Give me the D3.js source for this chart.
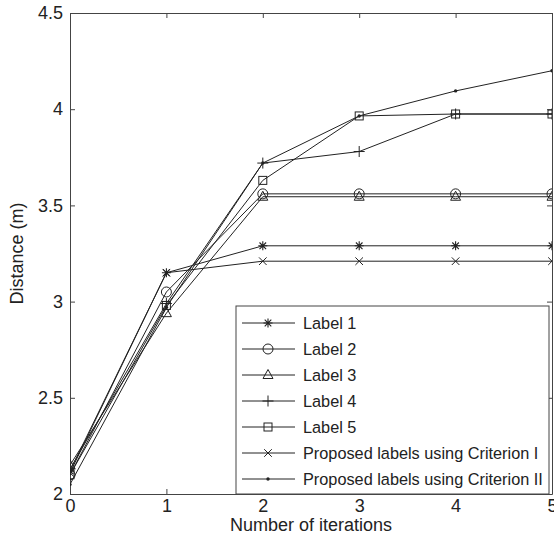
<!DOCTYPE html>
<html>
<head>
<meta charset="utf-8">
<script src="https://cdn.jsdelivr.net/npm/d3@7"></script>
<style>
  body { margin: 0; background: #fff; }
  text { font-family: "Liberation Sans", Arial, sans-serif; fill: #222; }
</style>
</head>
<body>
<div class="svg-div"></div>
<script>
// values
const iterations = [0, 1, 2, 3, 4, 5];
const label1 = [2.12, 3.15, 3.29, 3.29, 3.29, 3.29];
const label2 = [2.10, 3.05, 3.56, 3.56, 3.56, 3.56];
const label3 = [2.15, 2.94, 3.545, 3.545, 3.545, 3.545];
const label4 = [2.13, 2.99, 3.72, 3.78, 3.975, 3.975];
const label5 = [2.10, 2.98, 3.63, 3.965, 3.975, 3.975];
const criterion1 = [2.11, 3.15, 3.21, 3.21, 3.21, 3.21];
const criterion2 = [2.05, 2.97, 3.72, 3.965, 4.095, 4.2];

const seriesNames = ["Label 1", "Label 2", "Label 3", "Label 4", "Label 5",
  "Proposed labels using Criterion I", "Proposed labels using Criterion II"];
const seriesMarkers = ["asterisk", "circle", "triangle", "plus", "square", "cross", "dot"];
const xTicks = [0, 1, 2, 3, 4, 5];
const yTicks = [2, 2.5, 3, 3.5, 4, 4.5];

const allSeries = [label1, label2, label3, label4, label5, criterion1, criterion2];

const svgWidth = 554, svgHeight = 542;
const margin = {top: 13, right: 2, bottom: 48, left: 70};
let width = svgWidth - margin.left - margin.right;
let height = svgHeight - margin.top - margin.bottom;

let svg = d3.select(".svg-div").append("svg")
  .attr("width", svgWidth)
  .attr("height", svgHeight);

let x = d3.scaleLinear().domain([0, 5]).range([0, width]);
let y = d3.scaleLinear().domain([2, 4.5]).range([height, 0]);

let g = svg.append("g")
  .attr("transform", "translate(" + margin.left + "," + margin.top + ")");

// marker drawing
function drawMarker(sel, type) {
  const lineCol = "#222";
  if (type === "asterisk") {
    sel.append("path").attr("d", "M-4.5,0H4.5M0,-4.5V4.5M-3.3,-3.3L3.3,3.3M-3.3,3.3L3.3,-3.3")
      .attr("stroke", lineCol).attr("stroke-width", 1.1).attr("fill", "none");
  } else if (type === "circle") {
    sel.append("circle").attr("r", 5).attr("fill", "none").attr("stroke", lineCol).attr("stroke-width", 1);
  } else if (type === "triangle") {
    sel.append("path").attr("d", "M0,-5.5L5,3.5L-5,3.5Z")
      .attr("fill", "none").attr("stroke", lineCol).attr("stroke-width", 1);
  } else if (type === "plus") {
    sel.append("path").attr("d", "M-5.5,0H5.5M0,-5.5V5.5")
      .attr("stroke", lineCol).attr("stroke-width", 1).attr("fill", "none");
  } else if (type === "square") {
    sel.append("rect").attr("x", -4).attr("y", -4).attr("width", 8).attr("height", 8)
      .attr("fill", "none").attr("stroke", lineCol).attr("stroke-width", 1);
  } else if (type === "cross") {
    sel.append("path").attr("d", "M-3.8,-3.8L3.8,3.8M-3.8,3.8L3.8,-3.8")
      .attr("stroke", lineCol).attr("stroke-width", 1).attr("fill", "none");
  } else if (type === "dot") {
    sel.append("circle").attr("r", 1.7).attr("fill", lineCol);
  }
}

// axes with inside ticks
g.append("g")
  .attr("transform", "translate(0," + height + ")")
  .call(d3.axisBottom(x).tickValues(xTicks).tickSizeInner(-5).tickSizeOuter(0).tickPadding(5).tickFormat(d3.format("d")))
  .call(a => a.selectAll("text").style("font-size", "18px").attr("fill", "#222"));

g.append("g")
  .call(d3.axisLeft(y).tickValues(yTicks).tickSizeInner(-5).tickSizeOuter(0).tickPadding(7).tickFormat(d => String(d)))
  .call(a => a.selectAll("text").style("font-size", "18px").attr("fill", "#222"));

g.append("g")
  .call(d3.axisTop(x).tickValues(xTicks).tickSizeInner(-5).tickSizeOuter(0).tickFormat(""));

g.append("g")
  .attr("transform", "translate(" + width + ",0)")
  .call(d3.axisRight(y).tickValues(yTicks).tickSizeInner(-5).tickSizeOuter(0).tickFormat(""));

g.selectAll(".domain").attr("stroke", "#444");
g.selectAll(".tick line").attr("stroke", "#444");

// series
let line = d3.line()
  .x((d, i) => x(iterations[i]))
  .y(d => y(d));

svg.append("clipPath").attr("id", "plotclip")
  .append("rect").attr("width", width).attr("height", height);

let plot = g.append("g").attr("clip-path", "url(#plotclip)");

allSeries.forEach(function (vals, s) {
  plot.append("path")
    .datum(vals)
    .attr("d", line)
    .attr("fill", "none")
    .attr("stroke", "#222")
    .attr("stroke-width", 1);
  plot.selectAll(".m" + s)
    .data(vals)
    .enter()
    .append("g")
    .attr("class", "m" + s)
    .attr("transform", (d, i) => "translate(" + x(iterations[i]) + "," + y(d) + ")")
    .each(function () { drawMarker(d3.select(this), seriesMarkers[s]); });
});

// legend
let legend = svg.append("g").attr("transform", "translate(236,306)");
legend.append("rect")
  .attr("width", 313).attr("height", 188)
  .attr("fill", "#fff").attr("stroke", "#444").attr("stroke-width", 1);

seriesNames.forEach(function (name, i) {
  let row = legend.append("g").attr("transform", "translate(0," + (17 + i * 26) + ")");
  row.append("line").attr("x1", 6).attr("x2", 59).attr("y1", 0).attr("y2", 0)
    .attr("stroke", "#222").attr("stroke-width", 1);
  drawMarker(row.append("g").attr("transform", "translate(32,0)"), seriesMarkers[i]);
  row.append("text").attr("x", 67).attr("y", 6)
    .style("font-size", "16.3px").text(name);
});

// axis labels
svg.append("text")
  .attr("x", margin.left + width / 2).attr("y", 531)
  .attr("text-anchor", "middle").style("font-size", "18px")
  .text("Number of iterations");

svg.append("text")
  .attr("transform", "translate(23," + (margin.top + height / 2) + ") rotate(-90)")
  .attr("text-anchor", "middle").style("font-size", "18px")
  .text("Distance (m)");
</script>
</body>
</html>
